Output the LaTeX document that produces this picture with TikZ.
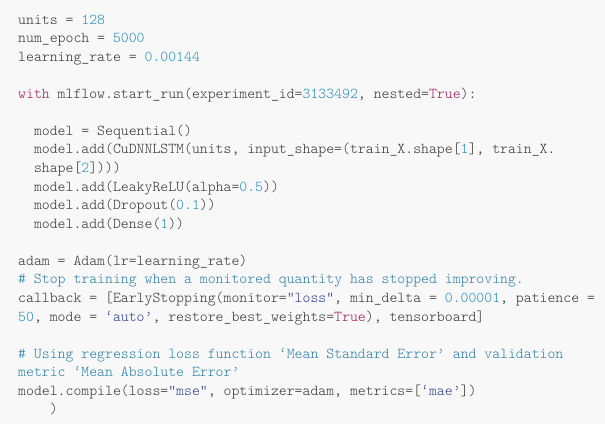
\documentclass[tikz,border=0pt]{standalone}
\usepackage{xcolor}
\usepackage{tikz}

\definecolor{codebg}{HTML}{F8F8F8}
\definecolor{codegray}{HTML}{333333}
\definecolor{numcol}{HTML}{238CB9}
\definecolor{cmtcol}{HTML}{287DA5}
\definecolor{kwcol}{HTML}{99174F}
\definecolor{strcol}{HTML}{2D3A8C}

\newcommand{\codefont}{\ttfamily\fontseries{l}\fontsize{15.05}{18}\selectfont}
\newcommand{\codenum}[1]{\textcolor{numcol}{#1}}
\newcommand{\codekw}[1]{\textcolor{kwcol}{#1}}
\newcommand{\codestr}[1]{\textcolor{strcol}{#1}}
\newcommand{\codecmt}[1]{\textcolor{cmtcol}{#1}}

\begin{document}
\begin{tikzpicture}[x=1pt,y=-1pt,
   code line/.style={anchor=base west,inner sep=0pt,text=codegray,font=\codefont},
   nextline/.style={yshift=-#1*18.57pt}]

  \path[use as bounding box,fill=codebg] (0,0) rectangle (605,424);

  \node[code line] (units) at (18,24) {units = \codenum{128}};
  \node[code line,nextline=1] (epoch) at (units.base west) {num\_epoch = \codenum{5000}};
  \node[code line,nextline=1] (rate) at (epoch.base west) {learning\_rate = \codenum{0.00144}};
  \node[code line,nextline=2] (with) at (rate.base west) {\codekw{with} mlflow.start\_run(experiment\_id=\codenum{3133492}, nested=\codekw{True}):};

  \node[code line,nextline=2] (seq) at (with.base west) {\hphantom{xx}model = Sequential()};
  \node[code line,nextline=1] (lstm) at (seq.base west) {\hphantom{xx}model.add(CuDNNLSTM(units, input\_shape=(train\_X.shape[\codenum{1}], train\_X.};
  \node[code line,nextline=1] (shape) at (lstm.base west) {\hphantom{xx}shape[\codenum{2}])))};
  \node[code line,nextline=1] (relu) at (shape.base west) {\hphantom{xx}model.add(LeakyReLU(alpha=\codenum{0.5}))};
  \node[code line,nextline=1] (drop) at (relu.base west) {\hphantom{xx}model.add(Dropout(\codenum{0.1}))};
  \node[code line,nextline=1] (dense) at (drop.base west) {\hphantom{xx}model.add(Dense(\codenum{1}))};

  \node[code line,nextline=2] (adam) at (dense.base west) {adam = Adam(lr=learning\_rate)};
  \node[code line,nextline=1] (stop) at (adam.base west) {\codecmt{\# Stop training when a monitored quantity has stopped improving.}};
  \node[code line,nextline=1] (callback) at (stop.base west) {callback = [EarlyStopping(monitor=\codestr{”loss”}, min\_delta = \codenum{0.00001}, patience =};
  \node[code line,nextline=1] (mode) at (callback.base west) {\codenum{50}, mode = \codestr{‘auto’}, restore\_best\_weights=\codekw{True}), tensorboard]};

  \node[code line,nextline=2] (using) at (mode.base west) {\codecmt{\# Using regression loss function ‘Mean Standard Error’ and validation}};
  \node[code line,nextline=1] (metric) at (using.base west) {\codecmt{metric ‘Mean Absolute Error’}};
  \node[code line,nextline=1] (compile) at (metric.base west) {model.compile(loss=\codestr{”mse”}, optimizer=adam, metrics=[\codestr{‘mae’}])};
  \node[code line,nextline=1] (close) at (compile.base west) {\hphantom{xxxx})};
\end{tikzpicture}
\end{document}
